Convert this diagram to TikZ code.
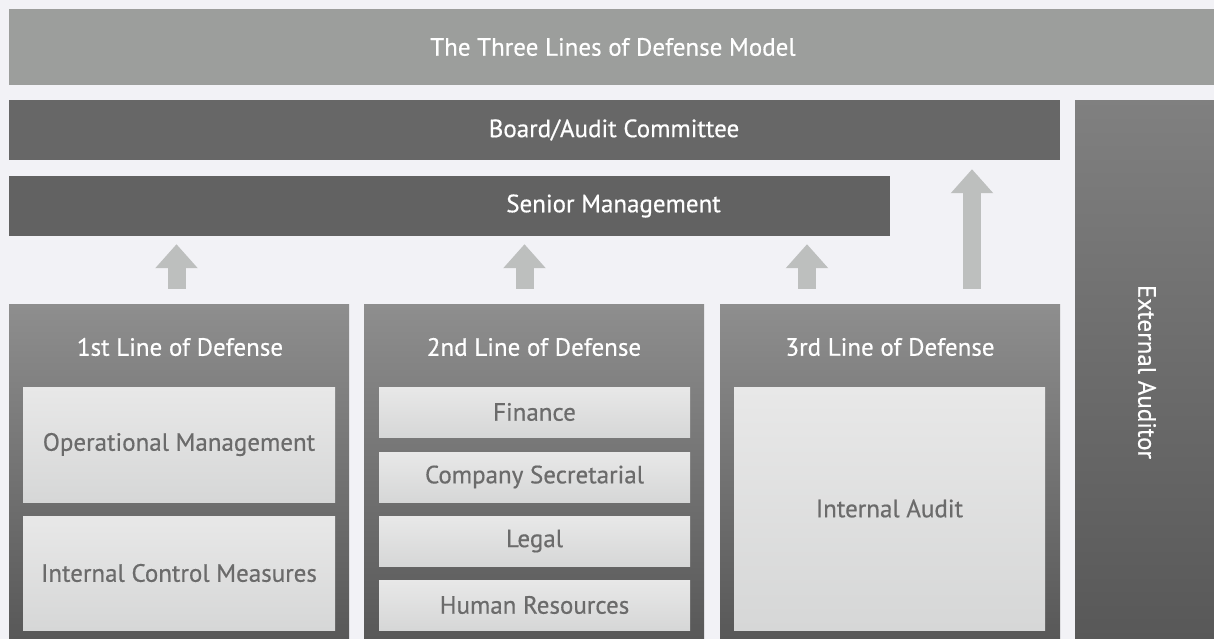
\documentclass[tikz,border=0pt]{standalone}
\usepackage{fontspec}
\setmainfont{PT Sans}
\newfontfamily\medfont[FakeBold=0.5]{PT Sans}
\usetikzlibrary{arrows.meta}

\definecolor{pagebg}{HTML}{F2F2F6}
\definecolor{headgray}{HTML}{9C9E9C}
\definecolor{darkband}{HTML}{676767}
\definecolor{coltop}{HTML}{8E8E8E}
\definecolor{colbot}{HTML}{585858}
\definecolor{paneltop}{HTML}{E8E8E8}
\definecolor{panelbot}{HTML}{D6D7D7}
\definecolor{paneltext}{HTML}{6B6B6B}
\definecolor{arrowgray}{HTML}{BDBFBE}

\tikzset{
  band/.style={inner sep=0pt, minimum height=60pt, fill=darkband},
  bandtext/.style={text=white, font=\medfont\fontsize{25}{30}\selectfont},
  column/.style={inner sep=0pt, minimum width=340pt, minimum height=335pt,
    top color=coltop, bottom color=colbot},
  coltitle/.style={text=white, font=\medfont\fontsize{25}{30}\selectfont},
  panel/.style={inner sep=0pt, minimum width=311pt, text=paneltext,
    top color=paneltop, bottom color=panelbot, font=\medfont\fontsize{25}{30}\selectfont},
  uparrow/.style={draw=arrowgray, line width=18pt,
    -{Triangle[width=41pt,length=24pt]}}
}

\begin{document}
\begin{tikzpicture}[x=1pt,y=-1pt]
    \fill[pagebg] (0,0) rectangle (1214,639);
    \useasboundingbox (0,0) rectangle (1214,639);

    % header and governing bodies
    \node[band, fill=headgray, minimum width=1205pt, minimum height=76pt]
        (model) at (611.5,47) {};
    \node[bandtext] (modeltext) at ([xshift=1.5pt]model.center) {The Three Lines of Defense Model};
    \node[band, minimum width=1051pt] (board) at (534.5,130) {};
    \node[band, minimum width=881pt, fill=darkband!95!black] (senior) at (449.5,206) {};
    \node[bandtext] (boardtext) at ([xshift=2.5pt]model.center |- board.center) {Board/Audit Committee};
    \node[bandtext] (seniortext) at ([xshift=2pt]model.center |- senior.center) {Senior Management};
    \node[inner sep=0pt, minimum width=139pt, minimum height=538pt,
          top color=coltop!90!black, bottom color=colbot] (extaud) at (1144.5,370) {};
    \node[coltitle, rotate=-90] (extaudtext) at (1147,372) {External Auditor};

    % the three lines
    \node[column] (line1) at (179,471.5) {};
    \node[column] (line2) at (534,471.5) {};
    \node[column] (line3) at (890,471.5) {};
    \node[coltitle] (title1) at (180,347) {1st Line of Defense};
    \node[coltitle] (title2) at (534,347) {2nd Line of Defense};
    \node[coltitle] (title3) at (890,347) {3rd Line of Defense};

    \node[panel, minimum width=312pt, minimum height=115pt] (opmgmt) at (179,444.5) {Operational Management};
    \node[panel, minimum width=312pt, minimum height=114pt] (icm) at (179,573) {Internal Control Measures};

    \node[panel, minimum height=50pt] (finance) at (534.5,412) {Finance};
    \node[panel, minimum height=50pt] (secretary) at (534.5,477) {Company Secretarial};
    \node[panel, minimum height=50pt] (legal) at (534.5,541) {Legal};
    \node[panel, minimum height=50pt] (hr) at (534.5,605) {Human Resources};

    \node[panel, minimum height=243pt] (audit) at (889.5,508.5) {Internal Audit};

    % reporting arrows
    \coordinate (a1) at ([xshift=-2.5pt]line1.north);
    \coordinate (a2) at ([xshift=-9.5pt]line2.north);
    \coordinate (a3) at ([xshift=-83pt]line3.north);
    \coordinate (a4) at ([xshift=82pt]line3.north);
    \foreach\a in {a1,a2,a3}
    {   \draw[uparrow, shorten <=15pt, shorten >=8pt] (\a) -- (\a |- senior.south);
    }
    \draw[uparrow, shorten <=15pt, shorten >=9pt] (a4) -- (a4 |- board.south);
\end{tikzpicture}
\end{document}
